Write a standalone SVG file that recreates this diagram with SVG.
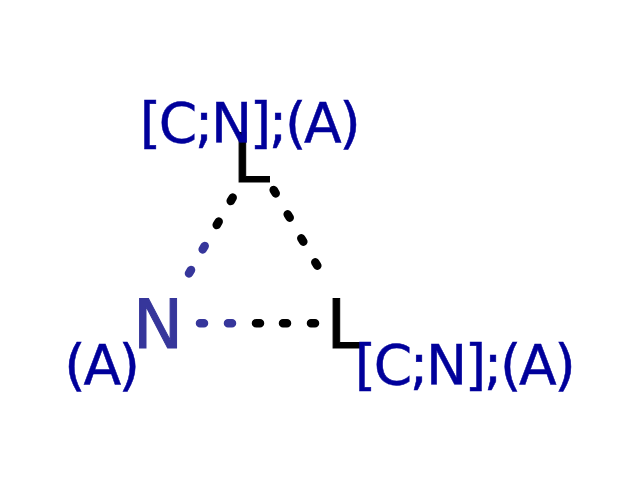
<svg xmlns="http://www.w3.org/2000/svg" width="640" height="480" viewBox="0 0 640 480">
<style>
text{font-family:"DejaVu Sans",sans-serif}
.q{font-size:55px;letter-spacing:-2.4px;fill:#00009b;stroke:#00009b;stroke-width:.5}
.a{font-size:67px;stroke-width:1}
.d{fill:none;stroke-width:8.5;stroke-linecap:round}
</style>
<rect width="640" height="480" fill="#fff"/>
<g id="connectors">
<path class="d" stroke="#000" d="M232.7 197.6L230.7 201M218.7 221.6L216.7 225"/>
<path class="d" stroke="#36369b" d="M204.7 246L202.7 249.4M191 270L189 273.4"/>
<path class="d" stroke="#000" d="M273.7 190L275.7 193.4M287.7 214.3L289.7 217.7M301.3 238.3L303.3 241.7M315.3 262.3L317.3 265.7"/>
<path class="d" stroke="#36369b" d="M200 323.3H204M228 323.3H232"/>
<path class="d" stroke="#000" d="M256 323.3H260M283 323.3H287M311 323.3H315"/>
</g>
<g id="node-top"><text class="a" x="232.5" y="182" stroke="#000">L</text><text class="q" x="249" y="142" text-anchor="middle">[C;N];(A)</text></g>
<g id="node-left"><text class="a" x="133" y="348" fill="#36369b" stroke="#36369b">N</text><text class="q" x="101" y="384" text-anchor="middle">(A)</text></g>
<g id="node-right"><text class="a" x="326.5" y="348" stroke="#000">L</text><text class="q" x="464" y="384" text-anchor="middle">[C;N];(A)</text></g>
</svg>
